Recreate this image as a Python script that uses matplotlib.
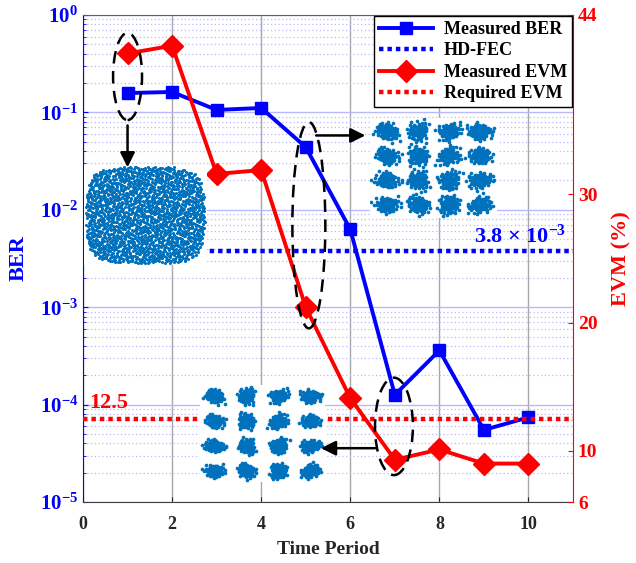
import numpy as np
import matplotlib
matplotlib.use('Agg')
import matplotlib.pyplot as plt
from matplotlib.patches import Ellipse, FancyArrowPatch
from matplotlib.lines import Line2D
from matplotlib.ticker import LogLocator, NullLocator

plt.rcParams['font.family'] = 'Liberation Serif'
plt.rcParams['font.weight'] = 'bold'
plt.rcParams['axes.labelweight'] = 'bold'

# data
time_period = [1, 2, 3, 4, 5, 6, 7, 8, 9, 10]
ber = [0.158, 0.162, 0.106, 0.111, 0.044, 0.0063, 1.26e-4, 3.6e-4, 5.5e-5, 7.4e-5]
evm = [41.0, 41.6, 31.6, 31.9, 21.2, 14.1, 9.3, 10.1, 9.0, 9.0]
hd_fec = 3.8e-3
evm_required = 12.5
evm_ticks = [6, 10, 20, 30, 44]

# 16-QAM levels and cluster spread of the constellation insets
qam_levels = [-3, -1, 1, 3]
spread_mid = 0.52
spread_low = 0.4


def halton(n, base, start=1):
    out = []
    for i in range(start, start + n):
        f, r, k = 1.0, 0.0, i
        while k > 0:
            f /= base
            r += f * (k % base)
            k //= base
        out.append(r)
    return np.array(out)


def qam_cloud(spread, npts=90):
    xs, ys = [], []
    k = 0
    for yi in qam_levels:
        for xi in qam_levels:
            u = halton(npts, 5, start=k * npts + 11)
            v = halton(npts, 7, start=k * npts + 3)
            th = 2 * np.pi * v
            # uneven blobs
            lobe = 1 + 0.18 * np.cos(2 * th + 1.7 * k) + 0.12 * np.sin(3 * th + 0.9 * k)
            r = spread * lobe * np.sqrt(-np.log(1 - 0.96 * u))
            xs.append(xi + r * np.cos(th))
            ys.append(yi + r * np.sin(th))
            k += 1
    return np.concatenate(xs), np.concatenate(ys)


fig = plt.figure(figsize=(6.36, 5.63), dpi=100)
ax = fig.add_axes([0.1305, 0.1083, 0.7705, 0.8651])
ax2 = ax.twinx()

# BER (left axis)
ax.plot(time_period, ber, color='blue', lw=2.8, marker='s', ms=9, zorder=3)
ax.plot([0, 11], [hd_fec, hd_fec], color='blue', lw=3.2, ls=(0, (1, 0.9)), zorder=3)
ax.set_yscale('log')
ax.set_ylim(1e-5, 1)
ax.set_xlim(0, 11)
ax.set_xticks([0, 2, 4, 6, 8, 10])
ax.xaxis.set_minor_locator(NullLocator())
ax.yaxis.set_major_locator(LogLocator(base=10, numticks=10))
ax.yaxis.set_minor_locator(LogLocator(base=10, subs=np.arange(2, 10), numticks=12))
ax.grid(which='major', axis='y', color='#b8b8ff', lw=1, ls='-')
ax.grid(which='minor', axis='y', color='#b8b8ff', lw=0.9, ls=(0, (1, 2)))
ax.grid(which='major', axis='x', color='#a8a8a8', lw=1, ls='-')
ax.tick_params(axis='y', which='both', direction='in', colors='blue', labelsize=15, right=False)
ax.tick_params(axis='x', direction='in', colors='#262626', labelsize=13, pad=10)
ax.spines['left'].set_color('blue')
ax.spines['right'].set_visible(False)
ax.spines['top'].set_color('#606060')
ax.spines['bottom'].set_color('#404040')
ax.set_ylabel('BER', color='blue', fontsize=16, labelpad=8)
ax.set_xlabel('Time Period', fontsize=14, color='#262626', labelpad=6)
ax.text(10.85, 4.6e-3, r'3.8 × $\mathdefault{10^{-3}}$', color='blue', fontsize=16,
        ha='right', va='baseline', zorder=4)

# EVM (right axis)
ax2.plot(time_period, evm, color='red', lw=2.8, marker='D', ms=11, zorder=3)
ax2.plot([0, 11], [evm_required, evm_required], color='red', lw=3.2, ls=(0, (1, 0.9)), zorder=3)
ax2.set_ylim(6, 44)
ax2.set_yticks(evm_ticks)
ax2.tick_params(axis='y', direction='in', colors='red', labelsize=14, left=False)
ax2.spines['right'].set_color('red')
for s in ['left', 'top', 'bottom']:
    ax2.spines[s].set_visible(False)
ax2.set_ylabel('EVM (%)', color='red', fontsize=16, labelpad=10)
ax2.text(0.13, 12.95, '12.5', color='red', fontsize=16, ha='left', va='bottom')

# dashed ellipses
for cx, cy, w, h in [(1.0, 39.2, 0.65, 6.8), (5.07, 27.6, 0.74, 16.1), (6.98, 11.9, 0.85, 7.6)]:
    ax2.add_patch(Ellipse((cx, cy), w, h, fill=False, ec='black', lw=1.8,
                          ls=(0, (5, 3)), zorder=5))

# legend
handles = [Line2D([], [], color='blue', lw=2.8, marker='s', ms=9),
           Line2D([], [], color='blue', lw=3.2, ls=(0, (1, 0.9))),
           Line2D([], [], color='red', lw=2.8, marker='D', ms=11),
           Line2D([], [], color='red', lw=3.2, ls=(0, (1, 0.9)))]
labels = ['Measured BER', 'HD-FEC', 'Measured EVM', 'Required EVM']
leg = ax2.legend(handles, labels, loc='upper right', bbox_to_anchor=(0.997, 0.997),
                 fontsize=13, handlelength=3.0, handletextpad=0.6, labelspacing=0.25,
                 borderpad=0.25, borderaxespad=0.0, fancybox=False, framealpha=1)
leg.get_frame().set_edgecolor('black')
leg.get_frame().set_linewidth(1)
leg.set_zorder(6)

# constellation insets
dot = '#0072BD'
ins1 = fig.add_axes([0.132, 0.5293, 0.193, 0.1776])
cx = halton(2000, 2) * 2 - 1
cy = halton(2000, 3) * 2 - 1
keep = cx ** 4 + cy ** 4 < 0.95
ins1.scatter(cx[keep], cy[keep], s=5, color=dot, lw=0)
ins1.set_xlim(-1.02, 1.02)
ins1.set_ylim(-1.02, 1.02)

ins2 = fig.add_axes([0.5818, 0.6128, 0.1997, 0.1776])
qx, qy = qam_cloud(spread_mid)
ins2.scatter(qx, qy, s=7, color=dot, lw=0)
ins2.set_xlim(-4.1, 4.1)
ins2.set_ylim(-4.1, 4.1)

ins3 = fig.add_axes([0.3145, 0.1439, 0.1965, 0.1723])
qx, qy = qam_cloud(spread_low)
ins3.scatter(qx, qy, s=7, color=dot, lw=0)
ins3.set_xlim(-3.9, 3.9)
ins3.set_ylim(-3.9, 3.9)

for a in [ins1, ins2, ins3]:
    a.set_facecolor('white')
    a.set_xticks([])
    a.set_yticks([])
    for s in a.spines.values():
        s.set_visible(False)

# arrows pointing at the insets
for start, end in [((1.0, 35.6), (1.0, 31.9)), ((5.17, 34.6), (6.4, 34.6)), ((6.62, 10.2), (5.28, 10.2))]:
    arr = FancyArrowPatch(start, end, transform=ax2.transData, arrowstyle='-|>',
                          mutation_scale=22, color='black', lw=1.8, zorder=7)
    fig.add_artist(arr)

fig.savefig('out.png', dpi=100)
